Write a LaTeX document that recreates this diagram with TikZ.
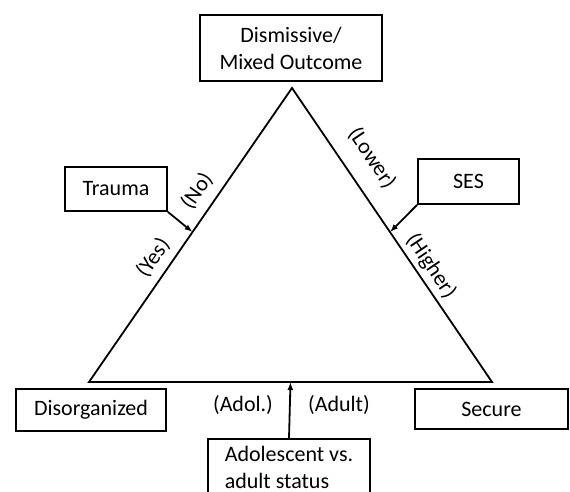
\documentclass[tikz,border=0pt]{standalone}
\usepackage{fontspec}
\setmainfont{Carlito}
\usetikzlibrary{arrows.meta,calc}

\begin{document}
\begin{tikzpicture}[x=1pt,y=1pt,yscale=-1,xscale=1,
  box/.style={draw,line width=1.8,inner sep=0pt,align=center,font=\fontsize{22}{27}\selectfont},
  lbl/.style={inner sep=1pt,font=\fontsize{22}{27}\selectfont},
  push/.style={line width=1.8,-{Latex[length=8pt,width=6pt]}}]
\useasboundingbox (0,0) rectangle (570,492);
\clip (0,0) rectangle (570,492);

%Triangle corners
\coordinate (apex) at (292,88);
\coordinate (left) at (89,382);
\coordinate (right) at (492,382);
\coordinate (hitL) at ($(left)!0.51!(apex)$);
\coordinate (hitR) at ($(right)!0.51!(apex)$);
\coordinate (hitB) at ($(left)!0.5!(right)$);

%Shape: Triangle
\draw [line width=1.8] (apex) -- (right) -- (left) -- cycle;

%Shape: Rectangle
\node [box, minimum width=182, minimum height=66] (dism) at (291,48) {Dismissive/\\Mixed Outcome};
\node [box, minimum width=102, minimum height=44] (trauma) at (116,189) {Trauma};
\node [box, minimum width=101, minimum height=45] (ses) at (468.5,181.5) {SES};
\node [box, minimum width=150, minimum height=42] (disorg) at (91,410) {Disorganized};
\node [box, minimum width=153, minimum height=40] (secure) at (491.5,409) {Secure};
\node [box, minimum width=162, minimum height=56, align=left] (status) at (289,467) {Adolescent vs.\\adult status};

%Straight Lines
\draw [push] (trauma.south east) -- (hitL);
\draw [push] (ses.south west) -- (hitR);
\draw [push] (status.north) -- (hitB);

% Text Node
\node [lbl, rotate=55] (no) at (197,191) {(No)};
\node [lbl, rotate=55] (yes) at (153,258) {(Yes)};
\node [lbl, rotate=-56] (lower) at (372,158) {(Lower)};
\node [lbl, rotate=-56] (higher) at (431,266) {(Higher)};
\node [lbl] (adol) at (243,405) {(Adol.)};
\node [lbl] (adult) at (339,405) {(Adult)};

\end{tikzpicture}
\end{document}
